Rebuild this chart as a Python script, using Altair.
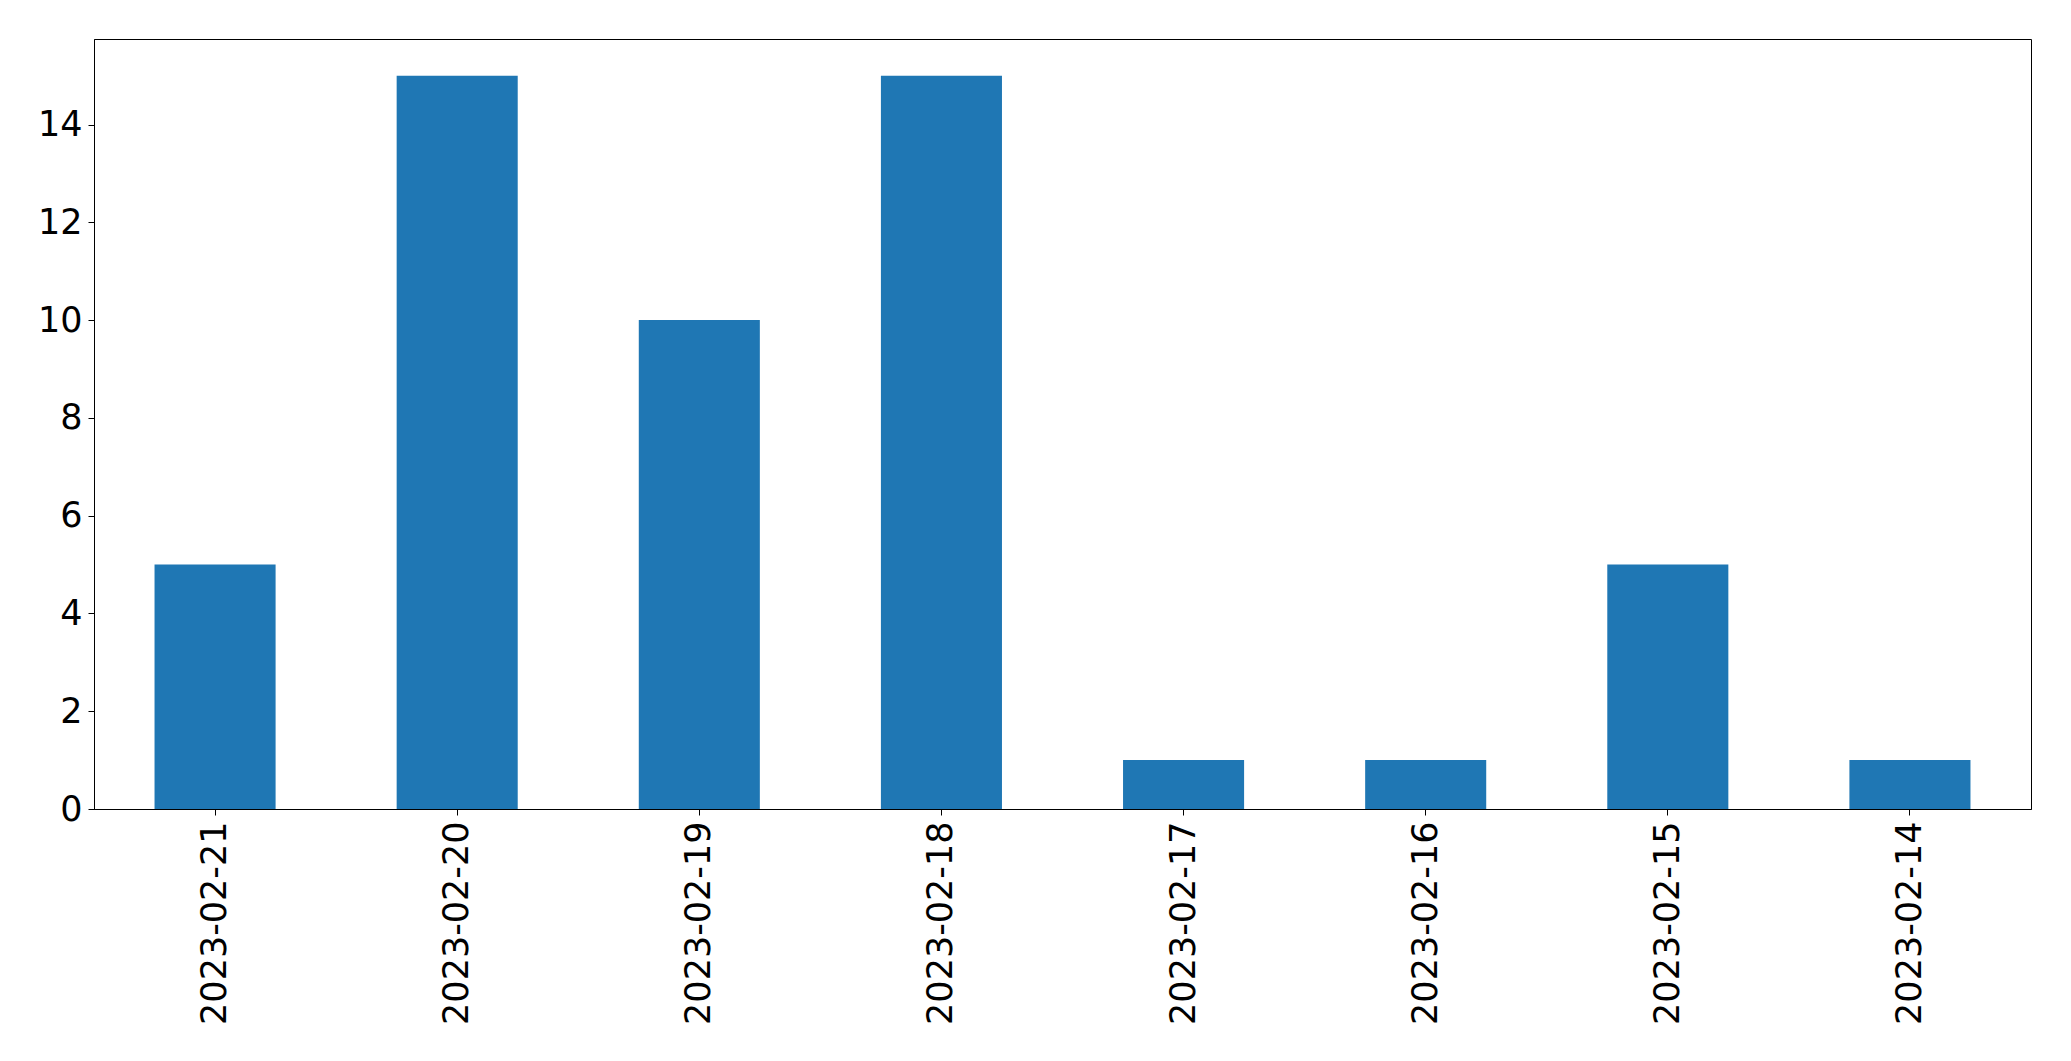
import altair as alt
import pandas as pd

dates = ["2023-02-21", "2023-02-20", "2023-02-19", "2023-02-18",
         "2023-02-17", "2023-02-16", "2023-02-15", "2023-02-14"]
counts = [5, 15, 10, 15, 1, 1, 5, 1]
y_ticks = [0, 2, 4, 6, 8, 10, 12, 14]

df = pd.DataFrame({"date": dates, "count": counts})

chart = alt.Chart(df).mark_bar(color="#1f77b4").encode(
    x=alt.X("date:N", sort=dates, title=None,
            scale=alt.Scale(paddingInner=0.5, paddingOuter=0.25),
            axis=alt.Axis(labelAngle=270, labelAlign="right", labelBaseline="middle",
                          labelFontSize=35, labelFont="DejaVu Sans", labelColor="black",
                          labelLimit=0,
                          tickSize=6, tickColor="black", labelPadding=6,
                          domainColor="black", domainWidth=1, grid=False)),
    y=alt.Y("count:Q", title=None,
            scale=alt.Scale(domain=[0, 15.75], nice=False, zero=True),
            axis=alt.Axis(values=y_ticks, labelFontSize=35, labelFont="DejaVu Sans",
                          labelColor="black", tickSize=6, tickColor="black",
                          labelPadding=6, domainColor="black", grid=False)),
).properties(
    width=1937,
    height=770,
    autosize=alt.AutoSizeParams(type="none"),
    padding={"left": 86, "top": 31, "right": 30, "bottom": 240},
    background="white",
).configure_view(
    stroke="black", strokeWidth=1
)

chart.save("out.html", embed_options={"renderer": "svg", "actions": False})
